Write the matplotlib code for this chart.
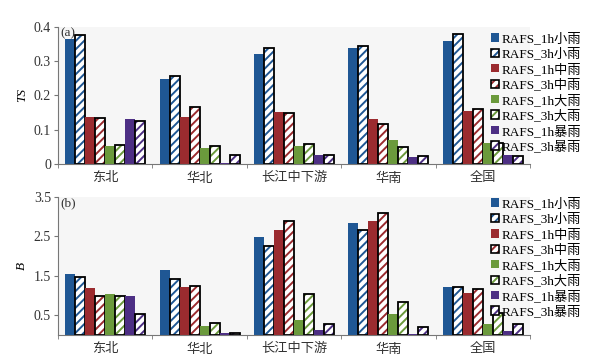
import numpy as np
import matplotlib
matplotlib.use("Agg")
import matplotlib.pyplot as plt
from matplotlib.patches import Patch

plt.rcParams['font.family'] = ['Liberation Serif', 'Noto Sans CJK SC']
plt.rcParams['hatch.linewidth'] = 1.4

regions = ['东北', '华北', '长江中下游', '华南', '全国']
series = ['RAFS_1h小雨', 'RAFS_3h小雨', 'RAFS_1h中雨', 'RAFS_3h中雨',
          'RAFS_1h大雨', 'RAFS_3h大雨', 'RAFS_1h暴雨', 'RAFS_3h暴雨']
colors = ['#1f5794', '#1f5794', '#9b2b2f', '#9b2b2f',
          '#6b9a3c', '#6b9a3c', '#4d2f84', '#4d2f84']

# TS score, one row per series, one column per region
ts = [
    [0.366, 0.247, 0.322, 0.338, 0.359],
    [0.376, 0.258, 0.340, 0.344, 0.381],
    [0.136, 0.136, 0.153, 0.130, 0.154],
    [0.135, 0.165, 0.150, 0.116, 0.160],
    [0.052, 0.048, 0.053, 0.070, 0.062],
    [0.055, 0.052, 0.058, 0.050, 0.061],
    [0.130, 0.002, 0.026, 0.021, 0.025],
    [0.125, 0.025, 0.027, 0.022, 0.022],
]
# bias score B
bias = [
    [1.54, 1.66, 2.48, 2.83, 1.21],
    [1.48, 1.41, 2.26, 2.65, 1.21],
    [1.18, 1.22, 2.67, 2.90, 1.07],
    [0.99, 1.25, 2.88, 3.10, 1.17],
    [1.04, 0.22, 0.39, 0.54, 0.27],
    [0.99, 0.30, 1.05, 0.83, 0.55],
    [0.99, 0.04, 0.13, 0.02, 0.11],
    [0.54, 0.06, 0.29, 0.19, 0.27],
]

fig = plt.figure(figsize=(6.04, 3.59), dpi=100)
ax_a = fig.add_axes([0.096, 0.5432, 0.7815, 0.3816])
ax_b = fig.add_axes([0.096, 0.0669, 0.7815, 0.3844])

x = np.arange(len(regions))
w = 0.106


def draw(ax, data, ylim, yticks, yticklabels, ylabel, tag, legend_y):
    ax.set_facecolor('#f6f6f6')
    for i, vals in enumerate(data):
        pos = x + (i - 3.5) * w
        if i % 2 == 0:
            ax.bar(pos, vals, w, color=colors[i], linewidth=0)
        else:
            ax.bar(pos, vals, w, color='white', edgecolor=colors[i],
                   hatch='////', linewidth=0)
            ax.bar(pos, vals, w, fill=False, edgecolor='black', linewidth=1.3)
    ax.set_xlim(-0.5, len(regions) - 0.5)
    ax.set_ylim(*ylim)
    ax.set_yticks(yticks)
    ax.set_yticklabels(yticklabels, fontsize=10, color='#333333')
    ax.set_xticks(x)
    ax.set_xticklabels(regions, fontsize=9.5, color='#333333')
    ax.set_xticks(np.arange(len(regions) + 1) - 0.5, minor=True)
    ax.tick_params(axis='x', which='major', length=0, pad=6)
    ax.tick_params(axis='x', which='minor', length=3, color='#777777')
    ax.tick_params(axis='y', length=3, color='#777777', pad=2)
    for s in ['top', 'right']:
        ax.spines[s].set_visible(False)
    for s in ['left', 'bottom']:
        ax.spines[s].set_color('#777777')
    ax.set_ylabel(ylabel, fontsize=9.5, style='italic', labelpad=4)
    ax.text(0.005, 1.0, tag, transform=ax.transAxes, fontsize=9.5,
            va='top', ha='left', color='#333333')
    handles = []
    for i in range(len(series)):
        if i % 2 == 0:
            handles.append(Patch(facecolor=colors[i], edgecolor='none'))
        else:
            handles.append((Patch(facecolor='white', edgecolor=colors[i], hatch='////', linewidth=0),
                            Patch(fill=False, edgecolor='black', linewidth=1.2)))
    ax.legend(handles, series, loc='upper left', bbox_to_anchor=(0.805, legend_y),
              bbox_transform=fig.transFigure, frameon=False, fontsize=9.5,
              handlelength=0.6, handleheight=0.6, handletextpad=0.2,
              labelspacing=0.2, borderaxespad=0)


draw(ax_a, ts, (0, 0.4), [0, 0.1, 0.2, 0.3, 0.4], ['0', '0.1', '0.2', '0.3', '0.4'],
     'TS', '(a)', 0.925)
draw(ax_b, bias, (0, 3.5), [0.5, 1.5, 2.5, 3.5], ['0.5', '1.5', '2.5', '3.5'],
     'B', '(b)', 0.465)

fig.savefig('out.png', dpi=100)
